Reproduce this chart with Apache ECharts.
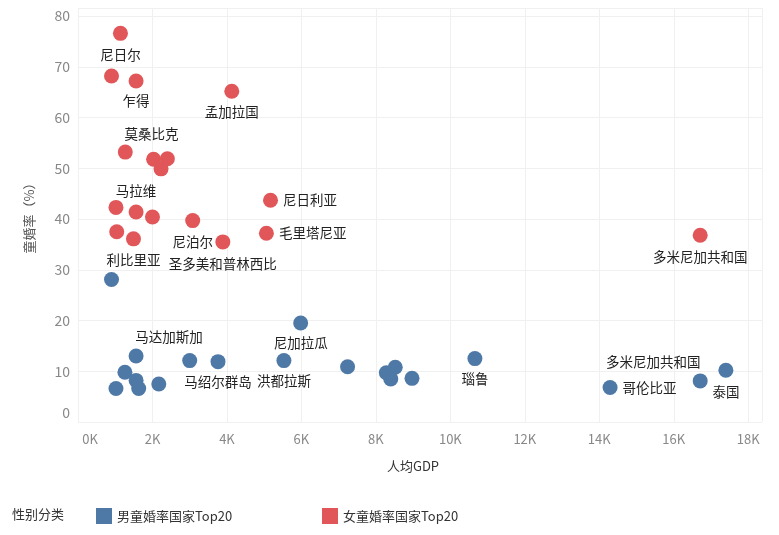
<!DOCTYPE html>
<html>
<head>
<meta charset="utf-8">
<script src="https://cdn.jsdelivr.net/npm/echarts@6/dist/echarts.min.js"></script>
<style>html,body{margin:0;padding:0;background:#fff;}#c{width:779px;height:535px;}</style>
</head>
<body>
<div id="c"></div>
<script>
// ---- data ----
const seriesNames = ['男童婚率国家Top20', '女童婚率国家Top20'];

const boyGdp  = [900, 1260, 1560, 1630, 1020, 2170, 1560, 3000, 3760, 5980, 5530, 7240, 8280, 8520, 8400, 8970, 10660, 14290, 16710, 17400];
const boyRate = [28.1, 9.8, 8.2, 6.6, 6.6, 7.5, 13.0, 12.1, 11.9, 19.5, 12.1, 10.9, 9.7, 10.8, 8.5, 8.6, 12.5, 6.8, 8.1, 10.2];
const boyName = ['', '', '', '', '', '', '马达加斯加', '', '马绍尔群岛', '尼加拉瓜', '洪都拉斯', '', '', '', '', '', '瑙鲁', '哥伦比亚', '多米尼加共和国', '泰国'];

const girlGdp  = [1140, 900, 1560, 4130, 1270, 2030, 2400, 2230, 1020, 1560, 2000, 3080, 1040, 1490, 3890, 5170, 5060, 16710];
const girlRate = [76.6, 68.2, 67.2, 65.2, 53.2, 51.8, 51.9, 49.9, 42.3, 41.4, 40.4, 39.7, 37.5, 36.1, 35.5, 43.7, 37.2, 36.8];
const girlName = ['尼日尔', '', '乍得', '孟加拉国', '', '莫桑比克', '', '', '', '马拉维', '', '尼泊尔', '', '利比里亚', '圣多美和普林西比', '尼日利亚', '毛里塔尼亚', '多米尼加共和国'];

const xTicks = ['0K','2K','4K','6K','8K','10K','12K','14K','16K','18K'];

// ---- label styling (placement per labelled point) ----
const blueLabelStyle = {
  '马达加斯加': {position: 'top', distance: 5, offset: [33, 0]},
  '马绍尔群岛': {position: 'bottom', distance: 6},
  '尼加拉瓜': {position: 'bottom', distance: 6},
  '洪都拉斯': {position: 'bottom', distance: 6},
  '瑙鲁': {position: 'bottom', distance: 6},
  '哥伦比亚': {position: 'right', distance: 5},
  '多米尼加共和国': {position: 'top', distance: 5, offset: [-47, 0]},
  '泰国': {position: 'bottom', distance: 7}
};
const redLabelStyle = {
  '尼日尔': {position: 'bottom', distance: 7},
  '乍得': {position: 'bottom', distance: 6},
  '孟加拉国': {position: 'bottom', distance: 6},
  '莫桑比克': {position: 'top', distance: 11, offset: [-2, 0]},
  '马拉维': {position: 'top', distance: 7},
  '尼泊尔': {position: 'bottom', distance: 7},
  '利比里亚': {position: 'bottom', distance: 7},
  '圣多美和普林西比': {position: 'bottom', distance: 8},
  '尼日利亚': {position: 'right', distance: 5},
  '毛里塔尼亚': {position: 'right', distance: 5},
  '多米尼加共和国': {position: 'bottom', distance: 7}
};

const FONT = '"Noto Sans CJK SC", "Noto Sans", sans-serif';
const BLUE = '#4e79a7', RED = '#e15759';

function build(gdp, rate, names, styles) {
  return gdp.map((g, i) => {
    const item = {name: names[i], value: [g, rate[i]]};
    if (names[i] && styles[names[i]]) {
      item.label = Object.assign({show: true}, styles[names[i]]);
    }
    return item;
  });
}

const chart = echarts.init(document.getElementById('c'), null, {renderer: 'canvas'});
chart.setOption({
  animation: false,
  backgroundColor: '#fff',
  textStyle: {fontFamily: FONT},
  grid: {left: 78, right: 17, top: 8, bottom: 113, containLabel: false},
  xAxis: {
    type: 'value', min: 0, max: 18370, interval: 2000,
    name: '人均GDP', nameLocation: 'middle', nameGap: 38,
    nameTextStyle: {color: '#333', fontSize: 13, fontFamily: FONT, padding: [0, 14, 0, 0]},
    axisLine: {show: false}, axisTick: {show: false},
    axisLabel: {color: '#888', fontSize: 13, margin: 11, fontFamily: FONT,
      formatter: v => v === 0 ? '{z|' + xTicks[0] + '}' : (xTicks[Math.round(v / 2000)] || ''),
      rich: {z: {color: '#888', fontSize: 13, fontFamily: FONT, padding: [0, 0, 0, 24]}}},
    splitLine: {show: true, lineStyle: {color: '#f0f0f0', width: 1}}
  },
  yAxis: {
    type: 'value', min: 0, max: 81.6, interval: 10,
    name: '童婚率（%）', nameLocation: 'middle', nameGap: 42, nameRotate: 90,
    nameTextStyle: {color: '#555', fontSize: 13, fontFamily: FONT},
    axisLine: {show: false}, axisTick: {show: false},
    axisLabel: {color: '#888', fontSize: 14, margin: 8, fontFamily: FONT,
      formatter: v => v === 0 ? '{z|0}' : String(v),
      rich: {z: {color: '#888', fontSize: 14, fontFamily: FONT, padding: [0, 0, 18, 0]}}},
    splitLine: {show: true, lineStyle: {color: '#f0f0f0', width: 1}}
  },
  legend: [
    {data: [seriesNames[0]], left: 96, top: 508, padding: 0, icon: 'rect', itemWidth: 16, itemHeight: 16, itemGap: 6,
      textStyle: {color: '#333', fontSize: 13, fontFamily: FONT}},
    {data: [seriesNames[1]], left: 322, top: 508, padding: 0, icon: 'rect', itemWidth: 16, itemHeight: 16, itemGap: 6,
      textStyle: {color: '#333', fontSize: 13, fontFamily: FONT}}
  ],
  graphic: [{
    type: 'text', left: 12, top: 508,
    style: {text: '性别分类', fill: '#333', font: '13px ' + FONT}
  }],
  series: [
    {
      name: seriesNames[0], type: 'scatter', symbolSize: 15,
      itemStyle: {color: BLUE, opacity: 1},
      label: {show: false, color: '#222', fontSize: 13.5, fontFamily: FONT, formatter: p => p.name},
      data: build(boyGdp, boyRate, boyName, blueLabelStyle)
    },
    {
      name: seriesNames[1], type: 'scatter', symbolSize: 15,
      itemStyle: {color: RED, opacity: 1},
      label: {show: false, color: '#222', fontSize: 13.5, fontFamily: FONT, formatter: p => p.name},
      data: build(girlGdp, girlRate, girlName, redLabelStyle)
    }
  ]
});
</script>
</body>
</html>
